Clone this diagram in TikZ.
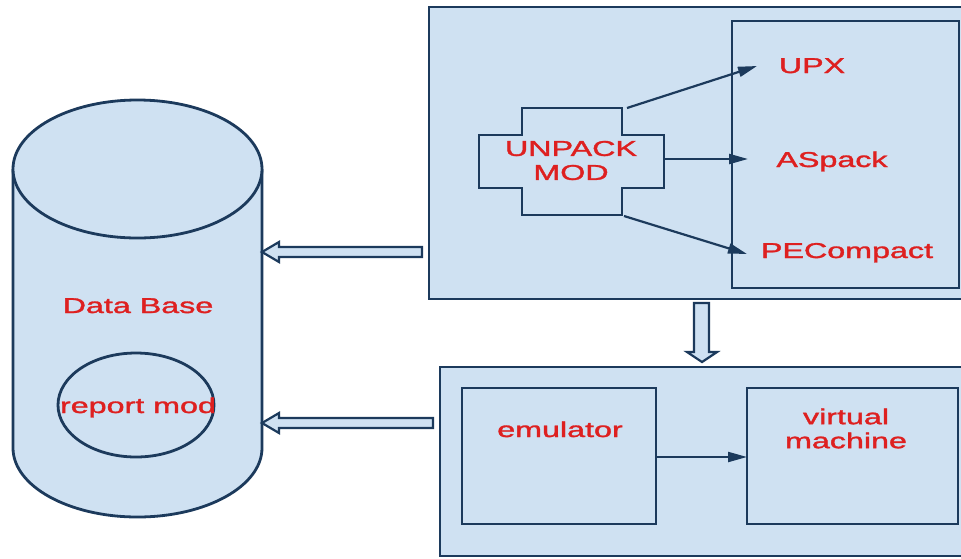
\documentclass[tikz,border=0pt]{standalone}
\usepackage{fontspec}
\setmainfont{Liberation Sans}
\newfontfamily\lblfont[FakeBold=1.3]{Liberation Sans}
\usepackage{graphicx}
\usetikzlibrary{arrows.meta}
\definecolor{boxfill}{RGB}{207,225,242}
\definecolor{boxline}{RGB}{28,58,92}
\definecolor{txtred}{RGB}{222,32,32}
\newcommand\stxt[1]{\scalebox{1.5}[1]{#1}}
\begin{document}
\begin{tikzpicture}[x=1pt,y=-1pt,
  shp/.style={draw=boxline,fill=boxfill,line width=2.8pt},
  lbl/.style={text=txtred,font=\lblfont\fontsize{21.5}{24}\selectfont,inner sep=0pt,align=center},
  thinarrow/.style={draw=boxline,line width=2.2pt,-{Triangle[length=19pt,width=10pt]}},
  hollow/.style={draw=boxline,fill=boxfill,line width=2.2pt,line join=miter}]
\clip (0,0) rectangle (961,558);
\fill[white] (0,0) rectangle (961,558);
% ---- top box
\draw[shp] (429,7) rectangle (990,299);
\draw[shp] (732,21) rectangle (959,288);
% cross shape
\draw[shp] (522,108) -- (622,108) -- (622,135) -- (664,135) -- (664,188) -- (622,188)
  -- (622,215) -- (522,215) -- (522,188) -- (479,188) -- (479,135) -- (522,135) -- cycle;
\node[lbl] (unpack) at (571,160.5) {\stxt{UNPACK}\\\stxt{MOD}};
\node[lbl,anchor=base] (upx) at (812,73) {\stxt{UPX}};
\node[lbl,anchor=base] (aspack) at (832,167) {\stxt{ASpack}};
\node[lbl,anchor=base] (pec) at (847,258) {\stxt{PECompact}};
\coordinate (c1) at (627,108);
\coordinate (c2) at (664,159);
\coordinate (c3) at (624,216);
\coordinate (t1) at (757,66);
\coordinate (t2) at (748,159);
\coordinate (t3) at (747,254);
\draw[thinarrow] (c1) -- (t1);
\draw[thinarrow] (c2) -- (t2);
\draw[thinarrow] (c3) -- (t3);
% ---- bottom box
\draw[shp] (440,367) rectangle (990,556);
\draw[shp] (462,388) rectangle (656,524);
\draw[shp] (747,388) rectangle (958,524);
\node[lbl,anchor=base] (emu) at (560,437) {\stxt{emulator}};
\node[lbl] (vm) at (846,428.5) {\stxt{virtual}\\\stxt{machine}};
\coordinate (e1) at (656,457);
\coordinate (e2) at (747,457);
\draw[thinarrow] (e1) -- (e2);
% ---- database cylinder
\fill[boxfill] (13,169) -- (13,448) .. controls (13,486.1) and (68.74,517) .. (137.5,517)
  .. controls (206.26,517) and (262,486.1) .. (262,448) -- (262,169) -- cycle;
\draw[boxline,line width=2.8pt] (13,169) -- (13,448) .. controls (13,486.1) and (68.74,517) .. (137.5,517)
  .. controls (206.26,517) and (262,486.1) .. (262,448) -- (262,169);
\draw[shp] (137.5,169) ellipse [x radius=124.5, y radius=69];
\node[lbl,anchor=base] (db) at (138,313) {\stxt{Data Base}};
\draw[shp] (136,405) ellipse [x radius=78, y radius=52];
\node[lbl,anchor=base] (rep) at (138,413) {\stxt{report mod}};
% ---- hollow arrows
\draw[hollow] (422,247) -- (279,247) -- (279,242) -- (262,252) -- (279,262) -- (279,257) -- (422,257) -- cycle;
\draw[hollow] (433,418) -- (279,418) -- (279,413) -- (262,423) -- (279,433) -- (279,428) -- (433,428) -- cycle;
\draw[hollow] (694,303) -- (694,352) -- (687,352) -- (702,362) -- (717,352) -- (709,352) -- (709,303) -- cycle;
\end{tikzpicture}
\end{document}
